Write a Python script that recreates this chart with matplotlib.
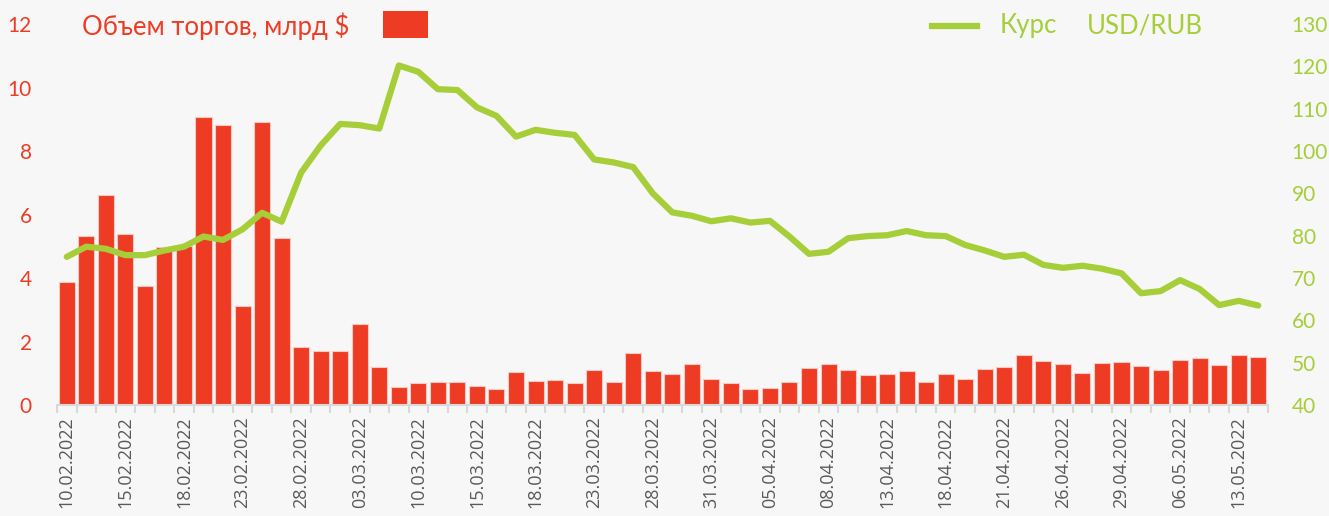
import matplotlib
matplotlib.use("Agg")
import matplotlib.pyplot as plt
import numpy as np
from matplotlib.lines import Line2D
from matplotlib.patches import Rectangle

dates = ["10.02.2022", "11.02.2022", "14.02.2022", "15.02.2022", "16.02.2022", "17.02.2022",
         "18.02.2022", "21.02.2022", "22.02.2022", "23.02.2022", "24.02.2022", "25.02.2022",
         "28.02.2022", "01.03.2022", "02.03.2022", "03.03.2022", "04.03.2022", "09.03.2022",
         "10.03.2022", "11.03.2022", "14.03.2022", "15.03.2022", "16.03.2022", "17.03.2022",
         "18.03.2022", "21.03.2022", "22.03.2022", "23.03.2022", "24.03.2022", "25.03.2022",
         "28.03.2022", "29.03.2022", "30.03.2022", "31.03.2022", "01.04.2022", "04.04.2022",
         "05.04.2022", "06.04.2022", "07.04.2022", "08.04.2022", "11.04.2022", "12.04.2022",
         "13.04.2022", "14.04.2022", "15.04.2022", "18.04.2022", "19.04.2022", "20.04.2022",
         "21.04.2022", "22.04.2022", "25.04.2022", "26.04.2022", "27.04.2022", "28.04.2022",
         "29.04.2022", "04.05.2022", "05.05.2022", "06.05.2022", "11.05.2022", "12.05.2022",
         "13.05.2022", "16.05.2022"]

volume = [3.86, 5.31, 6.62, 5.39, 3.75, 4.99, 5.0, 9.06, 8.83, 3.13, 8.92, 5.27,
          1.82, 1.69, 1.70, 2.55, 1.21, 0.56, 0.68, 0.73, 0.72, 0.61, 0.51, 1.03,
          0.76, 0.78, 0.70, 1.09, 0.72, 1.63, 1.06, 0.99, 1.28, 0.81, 0.70, 0.51,
          0.55, 0.71, 1.16, 1.30, 1.10, 0.93, 0.99, 1.08, 0.71, 0.99, 0.81, 1.12,
          1.20, 1.58, 1.38, 1.29, 1.02, 1.31, 1.34, 1.24, 1.10, 1.41, 1.47, 1.26,
          1.58, 1.51]

usdrub = [75.0, 77.4, 76.9, 75.4, 75.4, 76.5, 77.4, 79.8, 79.0, 81.5, 85.4, 83.3,
          94.9, 101.3, 106.4, 106.1, 105.3, 120.2, 118.7, 114.6, 114.4, 110.3, 108.3, 103.4,
          105.0, 104.3, 103.8, 98.0, 97.3, 96.2, 90.0, 85.5, 84.7, 83.4, 84.1, 83.1,
          83.5, 79.8, 75.7, 76.2, 79.4, 79.9, 80.1, 81.1, 80.1, 79.9, 77.8, 76.5,
          75.0, 75.5, 73.1, 72.4, 72.9, 72.2, 71.1, 66.4, 66.9, 69.5, 67.4, 63.6,
          64.6, 63.5]

left_ticks = [0, 2, 4, 6, 8, 10, 12]
right_ticks = [40, 50, 60, 70, 80, 90, 100, 110, 120, 130]

RED = "#EE3B24"
GREEN = "#A6CE39"
BG = "#F7F7F7"
FONT = "Lato"
W, H = 1329, 516

fig = plt.figure(figsize=(13.29, 5.16), dpi=100, facecolor=BG)
ax = fig.add_axes([57 / W, 111 / H, 1211 / W, 381 / H], facecolor=BG)
x = np.arange(len(dates))
ax.bar(x, volume, width=0.82, color=RED, edgecolor="#F6C9C1", linewidth=0.8, zorder=2)
ax.set_xlim(-0.5, len(dates) - 0.5)
ax.set_ylim(0, 12)
ax.set_yticks(left_ticks)
ax.set_yticklabels([str(t) for t in left_ticks], color=RED, fontsize=15, fontfamily=FONT)
ax.tick_params(axis="y", length=0, pad=18)

ax.set_xticks(x[::3])
ax.set_xticklabels(dates[::3], rotation=90, fontsize=13, color="#595959", fontfamily="Open Sans")
ax.tick_params(axis="x", which="major", length=0, pad=8)
ax.set_xticks(np.arange(-0.5, len(dates), 1.0), minor=True)
ax.tick_params(axis="x", which="minor", length=6, color="#D9D9D9", width=1.5)
for s in ["top", "left", "right"]:
    ax.spines[s].set_visible(False)
ax.spines["bottom"].set_color("#D9D9D9")
ax.spines["bottom"].set_linewidth(1.5)

ax2 = ax.twinx()
ax2.plot(x, usdrub, color=GREEN, linewidth=4.5, solid_capstyle="round", solid_joinstyle="round", zorder=3)
ax2.set_ylim(40, 130)
ax2.set_yticks(right_ticks)
ax2.set_yticklabels([str(t) for t in right_ticks], color=GREEN, fontsize=15, fontfamily=FONT)
ax2.tick_params(axis="y", length=0, pad=17)
for s in ["top", "left", "right", "bottom"]:
    ax2.spines[s].set_visible(False)

# legend entries
fig.text(82 / W, 1 - 26 / H, "Объем торгов, млрд $", color=RED, fontsize=18.5,
         fontfamily=FONT, va="center", ha="left")
fig.patches.append(Rectangle((383 / W, 1 - 38 / H), 45 / W, 27 / H, transform=fig.transFigure,
                             facecolor=RED, edgecolor="none"))
fig.lines.append(Line2D([932 / W, 977 / W], [1 - 26 / H, 1 - 26 / H], transform=fig.transFigure,
                        color=GREEN, linewidth=4.5))
fig.text(1000 / W, 1 - 26 / H, "Курс", color=GREEN, fontsize=18.5, fontfamily=FONT,
         va="center", ha="left")
fig.text(1087 / W, 1 - 26 / H, "USD/RUB", color=GREEN, fontsize=18.5, fontfamily=FONT,
         va="center", ha="left")

fig.savefig("out.png", dpi=100, facecolor=BG)
